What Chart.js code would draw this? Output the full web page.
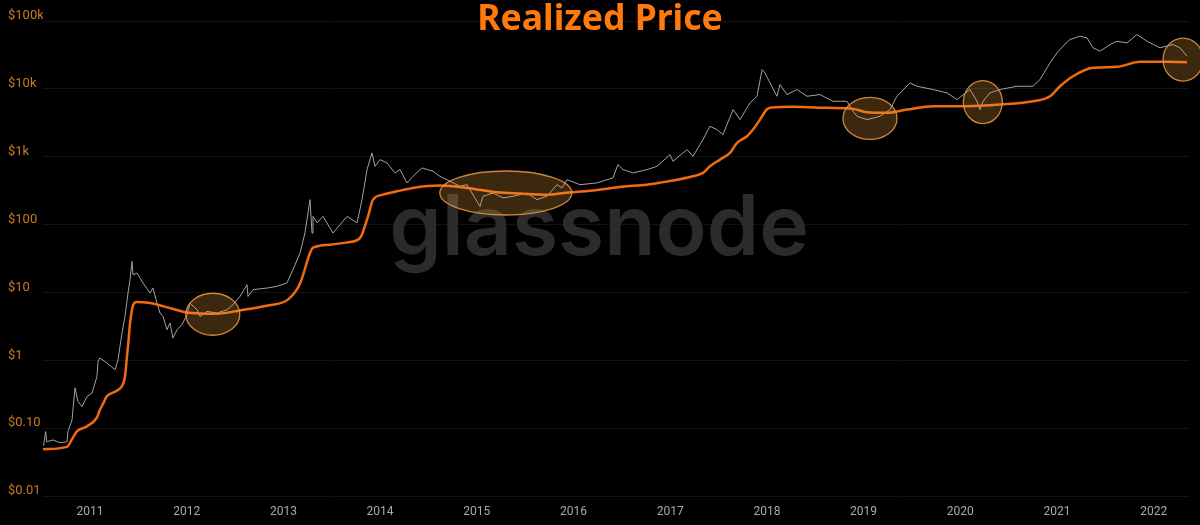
<!DOCTYPE html>
<html>
<head>
<meta charset="utf-8">
<title>Realized Price</title>
<script src="https://cdn.jsdelivr.net/npm/chart.js@4.4.0/dist/chart.umd.min.js"></script>
<style>
    html, body { margin: 0; padding: 0; background: #000; }
    #wrap { width: 1200px; height: 525px; }
</style>
</head>
<body>
<div id="wrap"><canvas id="myChart" width="1200" height="525"></canvas></div>
<script>
// BTC price (decimal year / USD)
const priceDates = [
    2010.520, 2010.542, 2010.552, 2010.617, 2010.690, 2010.762, 2010.772, 2010.814, 2010.845, 2010.876, 2010.917, 2010.969,
    2011.021, 2011.072, 2011.083, 2011.103, 2011.176, 2011.259, 2011.290, 2011.331, 2011.362, 2011.393, 2011.414, 2011.434, 2011.445, 2011.486, 2011.548, 2011.620, 2011.651, 2011.693, 2011.724, 2011.755, 2011.796, 2011.827, 2011.858, 2011.900, 2011.951,
    2012.003, 2012.034, 2012.107, 2012.138, 2012.210, 2012.313, 2012.417, 2012.479, 2012.551, 2012.624, 2012.634, 2012.686, 2012.830, 2012.934,
    2013.037, 2013.099, 2013.172, 2013.223, 2013.254, 2013.275, 2013.296, 2013.306, 2013.348, 2013.410, 2013.513, 2013.658, 2013.761, 2013.813, 2013.865, 2013.916, 2013.947, 2013.999,
    2014.071, 2014.154, 2014.206, 2014.278, 2014.340, 2014.433, 2014.547, 2014.619, 2014.723, 2014.826, 2014.899,
    2015.033, 2015.064, 2015.168, 2015.271, 2015.374, 2015.519, 2015.623, 2015.726, 2015.829, 2015.881, 2015.933,
    2016.067, 2016.243, 2016.408, 2016.460, 2016.512, 2016.615, 2016.760, 2016.864, 2016.998,
    2017.029, 2017.174, 2017.236, 2017.339, 2017.410, 2017.484, 2017.546, 2017.650, 2017.722, 2017.825, 2017.898, 2017.950, 2017.980,
    2018.032, 2018.104, 2018.135, 2018.208, 2018.311, 2018.415, 2018.549, 2018.683, 2018.828, 2018.890, 2018.932,
    2019.035, 2019.170, 2019.273, 2019.345, 2019.480, 2019.552, 2019.718, 2019.862, 2019.966,
    2020.100, 2020.173, 2020.204, 2020.235, 2020.307, 2020.410, 2020.586, 2020.752, 2020.824, 2020.928,
    2021.000, 2021.062, 2021.134, 2021.238, 2021.310, 2021.372, 2021.445, 2021.548, 2021.620, 2021.724, 2021.827, 2021.931,
    2022.065, 2022.200, 2022.272, 2022.344
];
const priceValues = [
    0.055, 0.089, 0.063, 0.067, 0.061, 0.063, 0.089, 0.132, 0.393, 0.247, 0.208, 0.292,
    0.328, 0.577, 0.96, 1.08, 0.91, 0.724, 1.02, 2.54, 4.43, 9.8, 15.4, 28.6, 18.2, 19.3, 13.8, 9.8, 11.6, 6.98, 4.97, 4.43, 2.82, 3.54, 2.12, 2.82, 3.34,
    4.69, 6.98, 5.56, 4.43, 5.25, 4.97, 5.56, 6.59, 8.73, 13.0, 8.73, 11.0, 11.6, 12.3,
    13.8, 21.6, 38.1, 75.2, 148, 233, 75, 132, 106, 132, 75, 132, 106, 233, 646, 1137, 722, 906,
    810, 577, 646, 411, 514, 684, 610, 514, 434, 366, 387,
    185, 261, 292, 247, 261, 292, 233, 261, 387, 347, 459,
    387, 411, 487, 766, 646, 577, 646, 722, 1074,
    856, 1274, 1014, 1786, 2808, 2512, 2118, 4950, 3524, 6220, 7780, 19280, 17200,
    12250, 7780, 11560, 8240, 9770, 7780, 8240, 6560, 6560, 4680, 3950,
    3524, 3950, 4950, 7780, 12250, 10920, 9770, 8730, 6950,
    9770, 6560, 4950, 6560, 8730, 9770, 10920, 10920, 13700, 24150,
    33950, 42500, 53300, 59700, 56500, 40300, 35900, 45000, 50300, 47600, 63200, 50300,
    40300, 45000, 40300, 30300
];

// Realized price
const realizedDates = [
    2010.514, 2010.762, 2010.810, 2010.862, 2010.966,
    2011.069, 2011.103, 2011.138, 2011.172, 2011.241, 2011.293, 2011.328, 2011.362, 2011.379, 2011.396, 2011.414, 2011.448, 2011.483, 2011.620, 2011.862,
    2012.000, 2012.310, 2012.551, 2012.827,
    2013.050, 2013.172, 2013.275, 2013.306, 2013.482, 2013.658, 2013.792, 2013.875, 2013.927,
    2014.030, 2014.175, 2014.340, 2014.620, 2014.899,
    2015.209, 2015.447, 2015.726, 2015.900,
    2016.200, 2016.500, 2016.760, 2016.900,
    2017.070, 2017.236, 2017.339, 2017.411, 2017.515, 2017.618, 2017.691, 2017.794, 2017.856, 2017.929,
    2018.000, 2018.050, 2018.270, 2018.622, 2018.890,
    2019.035, 2019.242, 2019.449, 2019.718,
    2020.069, 2020.410, 2020.752, 2020.928,
    2021.031, 2021.166, 2021.372, 2021.620, 2021.858,
    2022.138, 2022.344
];
const realizedValues = [
    0.049, 0.053, 0.067, 0.089, 0.106,
    0.141, 0.186, 0.234, 0.292, 0.335, 0.367, 0.411, 0.577, 1.02, 1.79, 3.54, 6.59, 7.22, 6.98, 5.69,
    5.07, 4.85, 5.43, 6.37,
    7.9, 13.5, 38, 45.6, 50.5, 54.6, 63.4, 132, 233,
    276, 309, 347, 375, 347,
    299, 286, 276, 292,
    318, 360, 387, 415,
    459, 514, 577, 722, 906, 1137, 1600, 2000, 2512, 3530,
    5000, 5300, 5430, 5250, 5070,
    4520, 4430, 4950, 5540,
    5540, 5860, 6560, 7780,
    10920, 15340, 20400, 21100, 25000,
    25000, 24650
];

const yearTicks = [2011, 2012, 2013, 2014, 2015, 2016, 2017, 2018, 2019, 2020, 2021, 2022];
const priceTicks = [0.01, 0.1, 1, 10, 100, 1000, 10000, 100000];
const priceTickLabels = ['$0.01', '$0.10', '$1', '$10', '$100', '$1k', '$10k', '$100k'];

// circled zones (centre in data units)
const highlightDates = [2012.27, 2015.30, 2019.066, 2020.233, 2022.303];
const highlightPrices = [4.77, 292, 3670, 6390, 27000];
const highlightRx = [27, 66, 27, 19.5, 20];
const highlightRy = [21, 22, 21, 21.5, 21.5];


const watermark = {
    id: 'watermark',
    beforeDatasetsDraw(chart) {
        const ctx = chart.ctx;
        ctx.save();
        ctx.font = '600 84px Inter';
        ctx.fillStyle = '#2b2b2b';
        ctx.textAlign = 'center';
        ctx.textBaseline = 'alphabetic';
        ctx.fillText('glassnode', 599, 255);
        ctx.restore();
    }
};

const highlights = {
    id: 'highlights',
    afterDatasetsDraw(chart) {
        const ctx = chart.ctx;
        const x = chart.scales.x;
        const y = chart.scales.y;
        ctx.save();
        highlightDates.forEach((d, i) => {
            ctx.beginPath();
            ctx.ellipse(x.getPixelForValue(d), y.getPixelForValue(highlightPrices[i]),
                highlightRx[i], highlightRy[i], 0, 0, Math.PI * 2);
            ctx.fillStyle = 'rgba(240, 160, 60, 0.25)';
            ctx.fill();
            ctx.strokeStyle = 'rgba(225, 145, 65, 0.9)';
            ctx.lineWidth = 1.3;
            ctx.stroke();
        });
        ctx.restore();
    }
};

const bigTitle = {
    id: 'bigTitle',
    afterDraw(chart) {
        const ctx = chart.ctx;
        ctx.save();
        ctx.font = 'bold 35.5px "Noto Sans"';
        ctx.fillStyle = '#ff790c';
        ctx.textAlign = 'center';
        ctx.textBaseline = 'alphabetic';
        ctx.fillText('Realized Price', 600, 29.5);
        ctx.restore();
    }
};


const ctx = document.getElementById('myChart').getContext('2d');

let myChart = new Chart(ctx, {
    type: 'line',
    data: {
        datasets: [
            {
                label: 'Realized Price',
                data: realizedDates.map((d, i) => ({ x: d, y: realizedValues[i] })),
                borderColor: '#f26b0f',
                borderWidth: 2.5,
                pointRadius: 0,
                cubicInterpolationMode: 'monotone'
            },
            {
                label: 'Price',
                data: priceDates.map((d, i) => ({ x: d, y: priceValues[i] })),
                borderColor: '#a2a2a2',
                borderWidth: 1,
                pointRadius: 0,
                tension: 0
            }
        ]
    },
    options: {
        responsive: false,
        devicePixelRatio: 1,
        animation: false,
        layout: { padding: { left: 8, right: 11, top: 21, bottom: 0 } },
        plugins: {
            legend: { display: false },
            title: { display: false },
            tooltip: { enabled: false }
        },
        scales: {
            x: {
                type: 'linear',
                min: 2010.514,
                max: 2022.365,
                afterBuildTicks: (scale) => { scale.ticks = yearTicks.map(v => ({ value: v })); },
                afterFit: (scale) => { scale.height = 29; },
                grid: { display: false },
                border: { display: false },
                ticks: {
                    color: '#a9a9a9',
                    font: { family: 'Roboto', size: 12 },
                    padding: 1,
                    autoSkip: false,
                    maxRotation: 0,
                    callback: (v) => String(v)
                }
            },
            y: {
                type: 'logarithmic',
                min: 0.01,
                max: 100000,
                afterBuildTicks: (scale) => { scale.ticks = priceTicks.map(v => ({ value: v })); },
                afterFit: (scale) => { scale.width = 35; },
                grid: { color: '#131313', drawTicks: false },
                border: { display: false },
                ticks: {
                    color: '#c77a22',
                    font: { family: 'Roboto', size: 13 },
                    crossAlign: 'far',
                    labelOffset: -5,
                    padding: 0,
                    callback: (v, i) => priceTickLabels[i]
                }
            }
        }
    },
    plugins: [watermark, highlights, bigTitle]
});
</script>
</body>
</html>
